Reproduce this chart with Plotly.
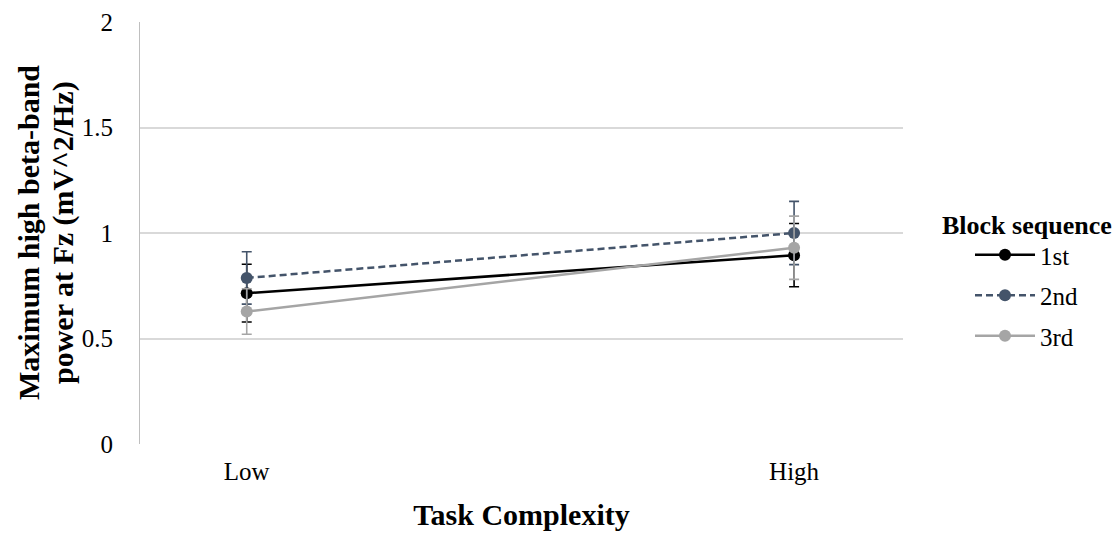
import plotly.graph_objects as go

categories = ["Low", "High"]
series_names = ["1st", "2nd", "3rd"]
values = {
    "1st": [0.715, 0.895],
    "2nd": [0.787, 1.000],
    "3rd": [0.628, 0.930],
}
errors = {
    "1st": [0.137, 0.150],
    "2nd": [0.124, 0.150],
    "3rd": [0.108, 0.150],
}
y_ticks = [0, 0.5, 1, 1.5, 2]
y_tick_labels = ["0", "0.5", "1", "1.5", "2"]
y_title_lines = ["Maximum high beta-band", "power at Fz (mV^2/Hz)"]

colors = {"1st": "#000000", "2nd": "#44546A", "3rd": "#A5A5A5"}
dashes = {"1st": "solid", "2nd": "7px,4px", "3rd": "solid"}

FONT = "Times New Roman, Liberation Serif, serif"
xpos = list(range(len(categories)))

L, R, T, B = 140, 216, 22, 90
PW, PH = 1119 - L - R, 534 - T - B

fig = go.Figure()
for i, name in enumerate(series_names):
    fig.add_trace(go.Scatter(
        x=xpos, y=values[name], name=name, mode="lines+markers",
        line=dict(color=colors[name], width=2.5, dash=dashes[name]),
        marker=dict(color=colors[name], size=12),
        error_y=dict(type="data", array=errors[name], visible=True,
                     color=colors[name], thickness=1.6, width=5),
        legendgroup=name,
    ))

fig.add_annotation(
    text="<b>Block sequence</b>", xref="paper", yref="paper",
    x=(940 - L) / PW, y=(444 - 225) / PH,
    xanchor="left", yanchor="middle", showarrow=False,
    font=dict(size=26, family=FONT, color="#000000"),
)
for line_text, xc in zip(y_title_lines, [28, 63]):
    fig.add_annotation(
        text="<b>" + line_text + "</b>", xref="paper", yref="paper",
        x=(xc - L) / PW, y=(444 - 233) / PH, textangle=-90,
        xanchor="center", yanchor="middle", showarrow=False,
        font=dict(size=30, family=FONT, color="#000000"),
    )

fig.update_layout(
    width=1119, height=534,
    margin=dict(l=L, r=R, t=T, b=B, autoexpand=False),
    paper_bgcolor="white", plot_bgcolor="white",
    font=dict(family=FONT, color="#000000", size=25),
    showlegend=True,
    legend=dict(
        xref="container", yref="container",
        x=970 / 1119, y=1 - 232 / 534, xanchor="left", yanchor="top",
        font=dict(size=25, family=FONT),
        tracegroupgap=5,
        itemwidth=60,
        bgcolor="rgba(0,0,0,0)",
    ),
    xaxis=dict(
        range=[-0.195, 1.199], tickvals=xpos, ticktext=categories,
        showgrid=False, zeroline=False, showline=False,
        ticks="", ticklabelstandoff=10, automargin=False,
        tickfont=dict(size=25, family=FONT),
        title=dict(text="<b>Task Complexity</b>", font=dict(size=30, family=FONT), standoff=19),
    ),
    yaxis=dict(
        range=[0, 2], tickvals=y_ticks, ticktext=y_tick_labels,
        showgrid=True, gridcolor="#D9D9D9", gridwidth=1.5,
        zeroline=False, showline=True, linecolor="#BFBFBF", linewidth=1.2,
        ticks="", ticklabelstandoff=21, automargin=False,
        tickfont=dict(size=25, family=FONT),
    ),
)

fig.write_html("out.html")
